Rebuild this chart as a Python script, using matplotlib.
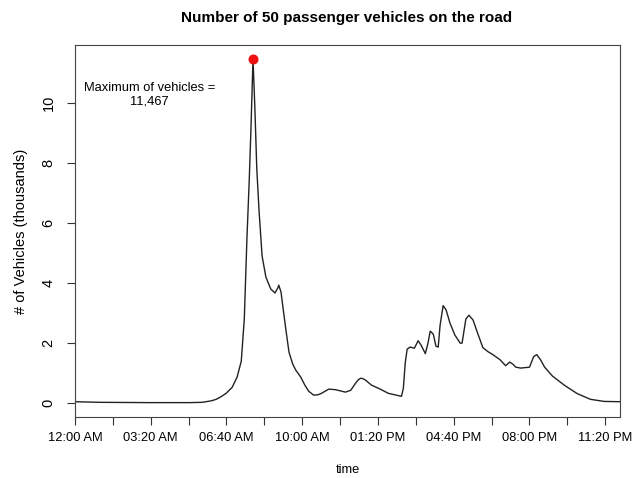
import matplotlib
matplotlib.use("Agg")
import matplotlib.pyplot as plt

# Minutes since midnight and vehicles on the road (thousands)
minutes = [0, 66, 197, 302, 336, 360, 373, 386, 399, 415, 428, 439, 447, 454,
           460, 465, 470, 475, 480, 486, 494, 504, 517, 528, 536, 538, 544, 549,
           557, 565, 575, 583, 596, 607, 617, 630, 641, 651, 670, 688, 714, 728,
           741, 748, 754, 760, 767, 783, 806, 827, 848, 862, 867, 872, 877, 885,
           896, 906, 914, 925, 932, 938, 946, 953, 959, 964, 972, 980, 990, 1003,
           1017, 1022, 1027, 1032, 1040, 1051, 1064, 1077, 1090, 1103, 1122,
           1137, 1148, 1156, 1164, 1177, 1200, 1211, 1219, 1229, 1240, 1261,
           1292, 1326, 1361, 1397, 1439]
vehicles = [0.05, 0.03, 0.02, 0.02, 0.03, 0.08, 0.13, 0.22, 0.33, 0.53, 0.87,
            1.40, 2.8, 5.5, 7.4, 9.3, 11.467, 9.8, 7.8, 6.4, 4.9, 4.2, 3.8, 3.67,
            3.85, 3.93, 3.7, 3.2, 2.43, 1.7, 1.3, 1.1, 0.87, 0.6, 0.4, 0.27, 0.28,
            0.33, 0.47, 0.45, 0.37, 0.43, 0.67, 0.78, 0.83, 0.82, 0.77, 0.6, 0.47,
            0.33, 0.27, 0.23, 0.5, 1.35, 1.8, 1.87, 1.83, 2.08, 1.93, 1.65, 2.0,
            2.4, 2.3, 1.9, 1.87, 2.6, 3.25, 3.1, 2.67, 2.27, 2.0, 2.0, 2.4, 2.8,
            2.93, 2.77, 2.3, 1.85, 1.72, 1.62, 1.45, 1.25, 1.37, 1.3, 1.2, 1.17,
            1.2, 1.55, 1.62, 1.45, 1.2, 0.9, 0.6, 0.32, 0.13, 0.06, 0.05]

x_ticks = list(range(0, 1401, 100))
y_ticks = [0, 2, 4, 6, 8, 10]


def clock_label(m):
    h, mm = divmod(int(m), 60)
    suffix = "AM" if h < 12 else "PM"
    h12 = h % 12
    if h12 == 0:
        h12 = 12
    return f"{h12:02d}:{mm:02d} {suffix}"


x_labels = [clock_label(m) if i % 2 == 0 else "" for i, m in enumerate(x_ticks)]

plt.rcParams['font.family'] = ["Liberation Sans", "DejaVu Sans"]

fig = plt.figure(figsize=(6.34, 4.78), dpi=100)
ax = fig.add_axes([75 / 634, 1 - 417 / 478, 545 / 634, 372 / 478])

ax.plot(minutes, vehicles, color="#222222", linewidth=1.0)

peak = max(vehicles)
peak_t = minutes[vehicles.index(peak)]
ax.plot([peak_t], [peak], "o", color="#ee1111", markersize=6.2)
ax.text(197, 10.27, f"Maximum of vehicles =\n{peak * 1000:,.0f}",
        ha="center", va="center", fontsize=9.3, linespacing=1.15)

ymax = peak
ax.set_xlim(0, 1439)
ax.set_ylim(-0.04 * ymax, ymax * 1.04)

ax.set_xticks(x_ticks)
ax.set_xticklabels(x_labels, fontsize=9.3)
ax.set_yticks(y_ticks)
ax.set_yticklabels([str(v) for v in y_ticks], rotation=90, va="center",
                   fontsize=10.5)

ax.tick_params(axis="both", direction="out", length=6, width=0.8,
               color="#333333")
ax.tick_params(axis="x", pad=5)
ax.tick_params(axis="y", pad=8)
for s in ax.spines.values():
    s.set_color("#444444")
    s.set_linewidth(0.8)

ax.set_xlabel("time", fontsize=9.3)
ax.xaxis.set_label_coords(0.5, -0.127)
ax.set_ylabel("# of Vehicles (thousands)", fontsize=10.5)
ax.yaxis.set_label_coords(-0.086, 0.5)

fig.text(347 / 634, 1 - 18 / 478, "Number of 50 passenger vehicles on the road",
         ha="center", va="center", fontsize=11, fontweight="bold")

fig.savefig("out.png", dpi=100)
